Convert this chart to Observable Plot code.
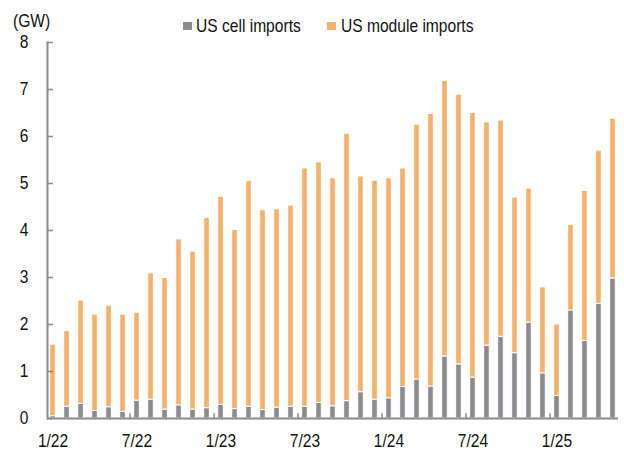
<!DOCTYPE html>
<html><head><meta charset="utf-8">
<script src="https://cdn.jsdelivr.net/npm/d3@7"></script>
<script src="https://cdn.jsdelivr.net/npm/@observablehq/plot@0.6"></script>
<style>
body{margin:0;background:#fff;}
#wrap{position:relative;width:624px;height:456px;font-family:"Liberation Sans",Arial,sans-serif;}
.t{position:absolute;font-size:19px;line-height:19px;color:#111;white-space:nowrap;transform:scaleX(0.82);transform-origin:0 0;}
.sw{position:absolute;width:8.5px;height:8px;}
</style></head><body>
<div id="wrap">
  <div class="t" style="left:13px;top:11px;">(GW)</div>
  <div class="sw" style="left:183px;top:22px;background:#8b8c8f;"></div>
  <div class="t" style="left:196px;top:16px;">US cell imports</div>
  <div class="sw" style="left:327px;top:22px;background:#f2b26b;"></div>
  <div class="t" style="left:341px;top:16px;">US module imports</div>
</div>
<script>
const months = ["1/22","2/22","3/22","4/22","5/22","6/22","7/22","8/22","9/22","10/22","11/22","12/22",
  "1/23","2/23","3/23","4/23","5/23","6/23","7/23","8/23","9/23","10/23","11/23","12/23",
  "1/24","2/24","3/24","4/24","5/24","6/24","7/24","8/24","9/24","10/24","11/24","12/24",
  "1/25","2/25","3/25","4/25","5/25"];
const cellImports = [0.05,0.25,0.31,0.16,0.24,0.14,0.38,0.40,0.19,0.28,0.19,0.22,
  0.29,0.20,0.25,0.18,0.23,0.25,0.25,0.33,0.26,0.37,0.56,0.40,
  0.43,0.67,0.83,0.68,1.32,1.15,0.87,1.55,1.74,1.39,2.04,0.96,
  0.48,2.30,1.65,2.44,2.98];
const moduleImports = [1.52,1.61,2.20,2.05,2.16,2.07,1.87,2.69,2.80,3.53,3.36,4.05,
  4.43,3.81,4.80,4.25,4.22,4.28,5.07,5.12,4.85,5.69,4.59,4.66,
  4.68,4.65,5.42,5.80,5.86,5.74,5.63,4.75,4.60,3.31,2.85,1.83,
  1.52,1.82,3.19,3.26,3.40];
const seriesNames = ["US cell imports","US module imports"];
const seriesColors = ["#8b8c8f","#f2b26b"];
const xTickLabels = ["1/22","7/22","1/23","7/23","1/24","7/24","1/25"];
const boundaryMonths = ["6/22","12/22","6/23","12/23","6/24","12/24"];
const yTicks = [0,1,2,3,4,5,6,7,8];

const rows = months.flatMap((m, i) => [
  {month: m, series: seriesNames[0], value: cellImports[i]},
  {month: m, series: seriesNames[1], value: moduleImports[i]}
]);

const font = '"Liberation Sans",Arial,sans-serif';
const chart = Plot.plot({
  width: 624, height: 456,
  marginLeft: 47, marginRight: 6, marginTop: 42, marginBottom: 38,
  style: {fontFamily: font, fontSize: "19px", color: "#111", background: "transparent"},
  x: {domain: months, paddingInner: 0.6, paddingOuter: 0.195, label: null},
  y: {domain: [0, 8], label: null},
  color: {domain: seriesNames, range: seriesColors},
  marks: [
    Plot.barY(rows, {x: "month", y: "value", fill: "series", stroke: "white", strokeWidth: 1}),
    Plot.ruleY([0], {stroke: "#8a8a8a", strokeWidth: 2}),
    Plot.frame({anchor: "left", stroke: "#8a8a8a", strokeWidth: 2}),
    Plot.ruleX(boundaryMonths, {x: d => d, y1: 0, y2: 0.1, dx: 7, stroke: "#8a8a8a", strokeWidth: 1.5}),
    Plot.axisY(yTicks, {tickSize: 6, insetLeft: 6, fill: "none", stroke: "#8a8a8a", strokeWidth: 1.5, label: null}),
    Plot.axisY(yTicks, {tickSize: 0, tickPadding: 19, dy: -1, fill: "#111", label: null}),
    Plot.axisX(xTickLabels, {tickSize: 0, tickPadding: 15, fill: "#111", label: null})
  ]
});
// narrow the tick labels to match the condensed typeface of the original
d3.select(chart).selectAll('g[aria-label$="tick label"] text').each(function() {
  const t = this.getAttribute("transform") || "";
  this.setAttribute("transform", (t + " scale(0.82,1)").trim());
});
chart.style.position = "absolute";
chart.style.left = "0px";
chart.style.top = "0px";
document.getElementById("wrap").prepend(chart);
</script>
</body></html>
